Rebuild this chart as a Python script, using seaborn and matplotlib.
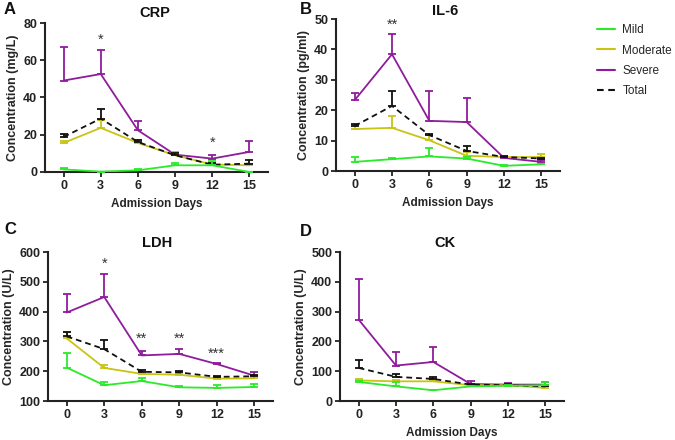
import matplotlib
matplotlib.use("Agg")
import matplotlib.pyplot as plt
import seaborn as sns
import pandas as pd
from matplotlib.lines import Line2D

days = [0, 3, 6, 9, 12, 15]
groups = ["Mild", "Moderate", "Severe", "Total"]

# CRP (mg/L)
crp_mean = {"Mild": [1.4, 0.2, 0.9, 3.6, 3.6, 0.0],
            "Moderate": [15.6, 23.7, 15.6, 9.0, 4.0, 3.6],
            "Severe": [49.1, 52.6, 22.4, 9.3, 7.2, 10.8],
            "Total": [18.8, 28.7, 16.1, 9.0, 3.9, 4.5]}
crp_err = {"Mild": [0.8, 0.0, 0.5, 1.4, 2.3, 0.0],
           "Moderate": [1.1, 4.0, 1.4, 1.6, 0.8, 0.9],
           "Severe": [17.8, 12.7, 5.0, 1.5, 1.8, 6.1],
           "Total": [1.8, 5.0, 1.0, 1.0, 0.9, 1.8]}
# IL-6 (pg/ml)
il6_mean = {"Mild": [3.0, 3.9, 4.8, 4.1, 1.7, 2.2],
            "Moderate": [13.8, 14.2, 10.1, 5.0, 4.6, 4.6],
            "Severe": [23.3, 38.4, 16.5, 16.1, 4.3, 3.0],
            "Total": [14.8, 21.4, 11.8, 6.6, 4.6, 4.1]}
il6_err = {"Mild": [1.6, 0.3, 2.8, 0.5, 0.3, 0.2],
           "Moderate": [1.3, 3.9, 1.7, 1.3, 0.4, 1.1],
           "Severe": [2.5, 6.6, 9.8, 7.8, 0.3, 0.5],
           "Total": [0.8, 5.0, 0.5, 1.7, 0.3, 0.3]}
# LDH (U/L)
ldh_mean = {"Mild": [212, 153, 167, 146, 144, 147],
            "Moderate": [310, 211, 191, 188, 175, 176],
            "Severe": [397, 449, 253, 258, 224, 185],
            "Total": [317, 274, 198, 196, 181, 183]}
ldh_err = {"Mild": [49, 11, 11, 3, 9, 9],
           "Moderate": [21, 11, 5, 4, 3, 7],
           "Severe": [63, 77, 14, 18, 3, 11],
           "Total": [15, 30, 5, 6, 3, 5]}
# CK (U/L)
ck_mean = {"Mild": [64, 49, 36, 49, 51, 53],
           "Moderate": [69, 66, 66, 53, 53, 44],
           "Severe": [273, 119, 131, 57, 55, 55],
           "Total": [111, 81, 74, 55, 53, 49]}
ck_err = {"Mild": [3, 14, 2, 3, 3, 11],
          "Moderate": [6, 4, 8, 3, 3, 5],
          "Severe": [137, 45, 49, 11, 5, 9],
          "Total": [25, 10, 7, 3, 3, 3]}

# significance marks: (day, y, text)
crp_sig = [(3, 71, "*"), (12, 15.5, "*")]
il6_sig = [(3, 48, "**")]
ldh_sig = [(3, 560, "*"), (6, 308, "**"), (9, 308, "**"), (12, 258, "***")]
ck_sig = []

titles = ["CRP", "IL-6", "LDH", "CK"]
ylabels = ["Concentration (mg/L)", "Concentration (pg/ml)",
           "Concentration (U/L)", "Concentration (U/L)"]
yticks = [[0, 20, 40, 60, 80], [0, 10, 20, 30, 40, 50],
          [100, 200, 300, 400, 500, 600], [0, 100, 200, 300, 400, 500]]
letters = ["A", "B", "C", "D"]

colors = {"Mild": "#2aea2a", "Moderate": "#c9c414", "Severe": "#8e1c9c", "Total": "#111111"}
zorders = {"Severe": 3, "Moderate": 4, "Total": 5, "Mild": 6}

sns.set_theme(style="ticks")
plt.rcParams["font.family"] = ["Liberation Sans", "DejaVu Sans"]

fig = plt.figure(figsize=(6.75, 4.4), dpi=100)
W, H = 675, 440


def box(l, t, r, b):
    return [l / W, 1 - b / H, (r - l) / W, (b - t) / H]


rects = [box(45, 23, 268, 172), box(336, 19, 560, 171),
         box(48, 252, 273, 401), box(340, 252, 564, 401)]
means = [crp_mean, il6_mean, ldh_mean, ck_mean]
errs = [crp_err, il6_err, ldh_err, ck_err]
sigs = [crp_sig, il6_sig, ldh_sig, ck_sig]
xlabel_on = [True, True, False, True]
letter_pos = [(4, 2), (300, 2), (4, 222), (300, 224)]
title_pos = [(155, 13), (445, 11), (157, 243), (445, 243)]

for i in range(4):
    ax = fig.add_axes(rects[i])
    for g in groups:
        df = pd.DataFrame({"day": days, "value": means[i][g]})
        ls = (0, (3.2, 2.2)) if g == "Total" else "-"
        sns.lineplot(data=df, x="day", y="value", ax=ax, color=colors[g],
                     linewidth=1.3, linestyle=ls, zorder=zorders[g], legend=False)
        ax.errorbar(days, means[i][g], yerr=[[0] * 6, errs[i][g]], fmt="none",
                    ecolor=colors[g], elinewidth=1.3, capsize=2.8, capthick=1.3,
                    zorder=zorders[g])
    for d, y, s in sigs[i]:
        ax.text(d, y, s, ha="center", va="center", fontsize=10.5, color="#333333")
    ax.set_xlim(-1.5, 16.5)
    ax.set_ylim(yticks[i][0], yticks[i][-1])
    ax.set_xticks(days)
    ax.set_yticks(yticks[i])
    ax.set_xticklabels([str(d) for d in days], fontweight="bold", fontsize=9)
    ax.set_yticklabels([str(t) for t in yticks[i]], fontweight="bold", fontsize=9)
    ax.set_ylabel(ylabels[i], fontweight="bold", fontsize=9, labelpad=3)
    ax.set_xlabel("Admission Days" if xlabel_on[i] else "", fontweight="bold",
                  fontsize=8.5, labelpad=4.5)
    for sp in ["top", "right"]:
        ax.spines[sp].set_visible(False)
    for sp in ["left", "bottom"]:
        ax.spines[sp].set_linewidth(1.5)
        ax.spines[sp].set_color("#222222")
    ax.tick_params(axis="both", length=3.5, width=1.3, color="#222222",
                   labelcolor="#222222", pad=2)
    ax.patch.set_alpha(0)
    tx, ty = title_pos[i]
    fig.text(tx / W, 1 - ty / H, titles[i], fontweight="bold", fontsize=10.5,
             ha="center", va="center", color="#111111")
    lx, ly = letter_pos[i]
    fig.text(lx / W, 1 - ly / H, letters[i], fontweight="bold", fontsize=12,
             ha="left", va="top", color="#111111")

handles = [Line2D([0], [0], color=colors[g], linewidth=1.5,
                  linestyle=(0, (3.2, 2.2)) if g == "Total" else "-") for g in groups]
fig.legend(handles, groups, loc="upper left", bbox_to_anchor=(597 / W, 1 - 24 / H),
           frameon=False, fontsize=8.5, handlelength=1.55, handletextpad=0.6,
           labelspacing=0.72, borderaxespad=0, borderpad=0)

fig.savefig("out.png", dpi=100)
